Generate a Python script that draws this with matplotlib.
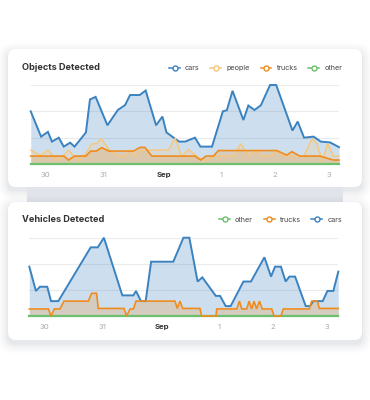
import matplotlib
matplotlib.use("Agg")
import matplotlib.pyplot as plt
from matplotlib.patches import FancyBboxPatch, Rectangle
from matplotlib.lines import Line2D

plt.rcParams['font.family'] = ['Inter', 'DejaVu Sans']

# ---------------- data ----------------
tick_hours = [6.3, 31.0, 56.3, 80.6, 103.2, 126.3]
tick_labels = ["30", "31", "Sep", "1", "2", "3"]

obj_cars_x = [0, 4.4, 7.3, 9.0, 11.9, 14.0, 16.7, 18.6, 23.4, 25.1, 27.5, 32.5, 36.9, 40.0, 42.1,
              46.2, 48.7, 53.1, 55.8, 57.5, 61.0, 62.9, 65.4, 69.6, 71.9, 76.8, 81.4, 83.1, 85.5,
              90.1, 92.2, 94.8, 97.5, 101.4, 104.0, 110.9, 113.1, 115.8, 119.8, 122.9, 126.8, 130.6]
obj_cars_y = [2.0, 1.04, 1.22, 0.85, 1.0, 0.66, 0.81, 0.66, 1.20, 2.45, 2.55, 1.47, 2.05, 2.24, 2.62,
              2.62, 2.79, 1.47, 1.80, 1.20, 0.97, 0.85, 0.85, 1.0, 0.66, 0.66, 2.0, 2.04, 2.78,
              1.67, 2.22, 2.05, 2.23, 3.0, 3.0, 1.27, 1.61, 1.0, 1.04, 0.85, 0.82, 0.64]

obj_people_x = [0, 4.2, 7.2, 11.3, 14.1, 16.0, 18.4, 20.6, 23.4, 25.8, 28.0, 29.9, 33.3, 37.1, 40.0,
                42.1, 44.2, 46.3, 48.7, 58.3, 61.2, 64.0, 66.8, 71.8, 74.6, 77.4, 85.9, 89.0, 92.2,
                95.5, 97.9, 101.4, 104.7, 107.1, 115.8, 119.1, 121.2, 123.6, 125.8, 128.2, 130.6]
obj_people_y = [0.53, 0.32, 0.53, 0.13, 0.34, 0.53, 0.30, 0.13, 0.41, 0.76, 0.78, 0.96, 0.53, 0.30, 0.30,
                0.53, 0.30, 0.50, 0.53, 0.53, 0.98, 0.28, 0.55, 0.20, 0.13, 0.30, 0.30, 0.77, 0.30,
                0.53, 0.30, 0.30, 0.51, 0.30, 0.30, 0.97, 0.78, 0.10, 0.78, 0.30, 0.30]

obj_trucks_x = [0, 14.1, 16.0, 18.6, 23.4, 25.4, 27.7, 30.1, 33.1, 43.5, 46.3, 48.4, 51.3, 69.6,
                72.0, 74.3, 77.4, 79.5, 104.2, 108.5, 110.6, 114.0, 122.5, 128.2, 130.6]
obj_trucks_y = [0.30, 0.30, 0.15, 0.30, 0.30, 0.49, 0.49, 0.62, 0.49, 0.49, 0.63, 0.63, 0.30, 0.30,
                0.15, 0.30, 0.30, 0.51, 0.51, 0.34, 0.47, 0.30, 0.30, 0.15, 0.15]

obj_other_x = [0, 130.6]
obj_other_y = [0, 0]

veh_cars_x = [0, 2.8, 4.5, 7.6, 9.2, 12.3, 26.0, 29.0, 31.6, 39.4, 44.1, 45.2, 47.3, 49.3, 51.6,
              61.0, 65.3, 67.8, 71.3, 73.3, 79.0, 80.8, 83.2, 85.3, 90.7, 93.9, 99.6, 102.4, 104.1,
              106.6, 108.6, 110.2, 112.6, 117.1, 118.9, 120.3, 124.3, 126.3, 128.8, 130.9]
veh_cars_y = [1.89, 0.96, 1.12, 1.12, 0.57, 0.57, 2.63, 2.63, 3.0, 0.79, 0.79, 0.96, 0.57, 0.57, 2.08,
              2.08, 3.0, 3.0, 1.32, 1.48, 0.77, 0.77, 0.38, 0.38, 1.32, 1.32, 2.25, 1.51, 1.89,
              1.89, 1.32, 1.51, 1.51, 0.38, 0.38, 0.57, 0.57, 0.96, 0.96, 1.70]

veh_trucks_x = [0, 8.1, 9.2, 10.6, 13.0, 14.7, 25.0, 26.4, 28.5, 29.2, 40.1, 41.2, 42.7, 44.1, 45.2,
                61.7, 62.7, 63.8, 65.0, 72.3, 73.0, 79.1, 79.4, 87.9, 89.0, 90.0, 92.1, 93.1, 94.2,
                95.2, 96.3, 97.5, 98.7, 102.7, 103.7, 106.6, 107.6, 118.6, 119.6, 122.0, 122.9, 130.9]
veh_trucks_y = [0.27, 0.27, 0.0, 0.27, 0.27, 0.57, 0.57, 0.87, 0.87, 0.29, 0.29, 0.0, 0.27, 0.27, 0.57,
                0.57, 0.29, 0.57, 0.29, 0.29, 0.0, 0.0, 0.27, 0.27, 0.57, 0.27, 0.27, 0.57, 0.27,
                0.57, 0.27, 0.57, 0.27, 0.27, 0.0, 0.0, 0.27, 0.27, 0.57, 0.57, 0.29, 0.29]

veh_other_x = [0, 130.9]
veh_other_y = [0, 0]

C_CARS = "#3a82c0"
C_PEOPLE = "#f8c677"
C_TRUCKS = "#f08c1e"
C_OTHER = "#6cbf6c"

# ---------------- figure ----------------
W, H = 370, 400
fig = plt.figure(figsize=(W / 100, H / 100), dpi=100)
fig.patch.set_facecolor("white")

bg = fig.add_axes([0, 0, 1, 1], zorder=-5)
bg.set_xlim(0, W)
bg.set_ylim(H, 0)
bg.axis("off")


def card(x0, y0, x1, y1):
    # soft shadow
    for i, a in enumerate([0.03, 0.025, 0.02, 0.016, 0.012, 0.009]):
        p = 1.0 + i * 1.8
        bg.add_patch(FancyBboxPatch((x0, y0 + 3.5), x1 - x0, y1 - y0,
                                    boxstyle=f"round,pad={p},rounding_size={7 + p}",
                                    fc="#3a4060", ec="none", alpha=a))
    bg.add_patch(FancyBboxPatch((x0, y0), x1 - x0, y1 - y0,
                                boxstyle="round,pad=0,rounding_size=8",
                                fc="white", ec="none"))


card(8, 49, 362, 187)
# stacked card strip behind
bg.add_patch(Rectangle((27, 187), 316, 15, fc="#e2e4ec", ec="none"))
card(8, 202, 362, 340)

bg.text(21.5, 67.5, "Objects Detected", fontsize=6.6, fontweight="bold",
        color="#333333", va="center", ha="left")
bg.text(21.5, 220, "Vehicles Detected", fontsize=6.6, fontweight="bold",
        color="#333333", va="center", ha="left")


def make_axes(rect_px):
    x0, y0, x1, y1 = rect_px
    ax = fig.add_axes([x0 / W, 1 - y1 / H, (x1 - x0) / W, (y1 - y0) / H])
    ax.patch.set_alpha(0)
    for s in ax.spines.values():
        s.set_visible(False)
    ax.set_ylim(0, 3)
    ax.set_yticks([])
    for g in [1, 2, 3]:
        ax.axhline(g, color="#ebebeb", lw=0.8, zorder=0)
    ax.set_xticks(tick_hours)
    ax.set_xticklabels(tick_labels)
    ax.tick_params(axis="x", length=0, pad=6, labelsize=5.6, labelcolor="#aaaaaa")
    for lab in ax.get_xticklabels():
        if lab.get_text() == "Sep":
            lab.set_fontweight("bold")
            lab.set_color("#333333")
    return ax


def series(ax, x, y, color, fill_alpha, lw=1.2, z=2):
    if fill_alpha > 0:
        ax.fill_between(x, y, 0, color=color, alpha=fill_alpha, lw=0, zorder=z)
    ax.plot(x, y, color=color, lw=lw, zorder=z + 5, clip_on=False, solid_joinstyle="miter")


def handle(color):
    return Line2D([], [], color=color, lw=1.1, marker="o", markersize=3.6,
                  markerfacecolor="white", markeredgecolor=color, markeredgewidth=1.0)


LEG = dict(frameon=False, loc="center right", borderaxespad=0, borderpad=0,
           fontsize=5.2, handlelength=1.5, handletextpad=0.7, columnspacing=1.5,
           labelcolor="#444444")

# ---- top chart ----
ax1 = make_axes((30.7, 85, 339, 164))
ax1.set_xlim(0, 130.6)
series(ax1, obj_cars_x, obj_cars_y, C_CARS, 0.25, lw=1.4, z=2)
series(ax1, obj_people_x, obj_people_y, C_PEOPLE, 0.22, lw=1.0, z=3)
series(ax1, obj_trucks_x, obj_trucks_y, C_TRUCKS, 0.22, lw=1.2, z=4)
series(ax1, obj_other_x, obj_other_y, C_OTHER, 0, lw=1.6, z=1)
ax1.legend([handle(C_CARS), handle(C_PEOPLE), handle(C_TRUCKS), handle(C_OTHER)],
           ["cars", "people", "trucks", "other"], ncol=4,
           bbox_to_anchor=(1.01, 1.212), **LEG)

# ---- bottom chart ----
ax2 = make_axes((29.3, 237.7, 338.3, 316))
ax2.set_xlim(0, 130.9)
series(ax2, veh_cars_x, veh_cars_y, C_CARS, 0.25, lw=1.4, z=2)
series(ax2, veh_trucks_x, veh_trucks_y, C_TRUCKS, 0.22, lw=1.2, z=4)
series(ax2, veh_other_x, veh_other_y, C_OTHER, 0, lw=1.6, z=1)
ax2.legend([handle(C_OTHER), handle(C_TRUCKS), handle(C_CARS)],
           ["other", "trucks", "cars"], ncol=3,
           bbox_to_anchor=(1.012, 1.23), **LEG)

fig.savefig("out.png", dpi=100, facecolor="white")
